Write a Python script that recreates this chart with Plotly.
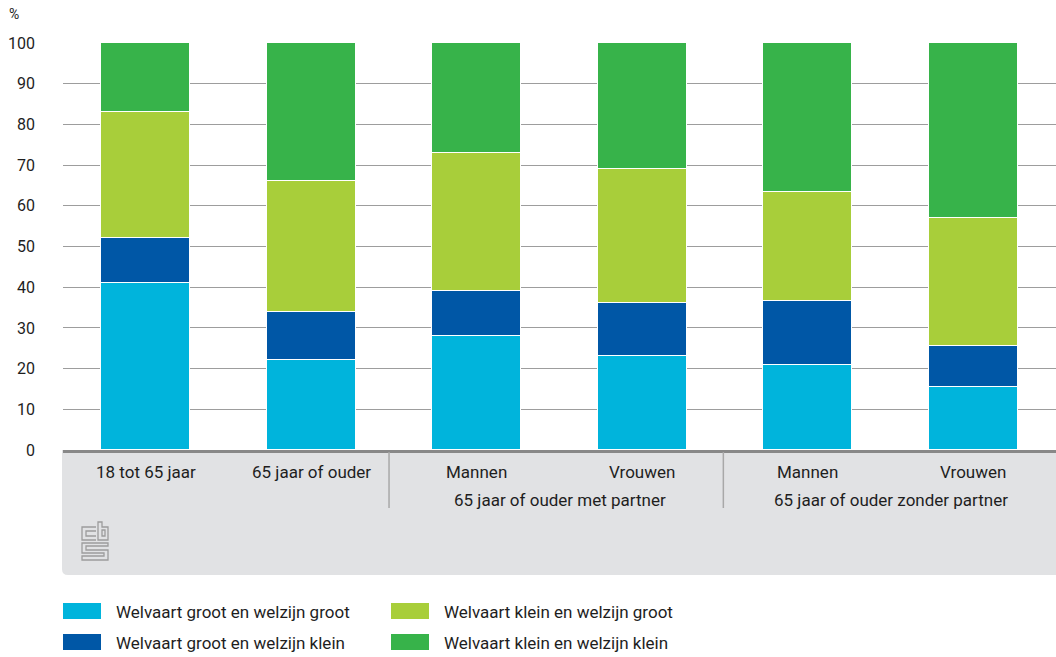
import plotly.graph_objects as go

# ---- data ----
categories = ["18 tot 65 jaar", "65 jaar of ouder", "Mannen", "Vrouwen", "Mannen", "Vrouwen"]
group_labels = ["65 jaar of ouder met partner", "65 jaar of ouder zonder partner"]
series_names = [
    "Welvaart groot en welzijn groot",
    "Welvaart groot en welzijn klein",
    "Welvaart klein en welzijn groot",
    "Welvaart klein en welzijn klein",
]
welvaart_groot_welzijn_groot = [41, 22, 28, 23, 21, 15.5]
welvaart_groot_welzijn_klein = [11, 12, 11, 13, 15.5, 10]
welvaart_klein_welzijn_groot = [31, 32, 34, 33, 27, 31.5]
welvaart_klein_welzijn_klein = [17, 34, 27, 31, 36.5, 43]
y_ticks = [0, 10, 20, 30, 40, 50, 60, 70, 80, 90, 100]

series_values = [
    welvaart_groot_welzijn_groot,
    welvaart_groot_welzijn_klein,
    welvaart_klein_welzijn_groot,
    welvaart_klein_welzijn_klein,
]
colors = ["#00b4dc", "#0057a6", "#a8ce3a", "#37b34a"]

FONT = "Roboto, Open Sans, sans-serif"
TXT = "#1e1e1e"

W, H = 1056, 657
L, R, T, B = 63, 0, 43, 207
PW, PH = W - L - R, H - T - B


def px(x):
    return (x - L) / PW


def py(y):
    return (H - B - y) / PH


xs = list(range(len(categories)))

fig = go.Figure()
for name, vals, col in zip(series_names, series_values, colors):
    fig.add_trace(go.Bar(
        x=xs, y=vals, name=name, width=0.54,
        marker=dict(color=col, line=dict(color="white", width=1.5)),
        showlegend=False,
    ))

shapes = []
annotations = []

# grey band under axis with rounded bottom-left corner
x0, x1 = px(62), 1.0
y0, y1 = py(450), py(575)
r = 6
shapes.append(dict(
    type="path", xref="paper", yref="paper", layer="below",
    path=(f"M {x0},{y0} L {x1},{y0} L {x1},{y1} L {px(62 + r)},{y1} "
          f"Q {x0},{y1} {x0},{py(575 - r)} Z"),
    fillcolor="#e1e2e4", line=dict(width=0),
))

# separators between groups
for xv in [1.47, 3.49]:
    shapes.append(dict(type="line", xref="x", yref="paper", x0=xv, x1=xv,
                       y0=py(452), y1=py(508), line=dict(color="#a8a8a8", width=1.5)))

# category labels
for i, c in enumerate(categories):
    annotations.append(dict(x=i, y=py(472), xref="x", yref="paper", text=c,
                            showarrow=False, font=dict(size=17, color=TXT, family=FONT),
                            xanchor="center", yanchor="middle"))
for gi, g in enumerate(group_labels):
    annotations.append(dict(x=2.5 + 2 * gi, y=py(500), xref="x", yref="paper", text=g,
                            showarrow=False, font=dict(size=17, color=TXT, family=FONT),
                            xanchor="center", yanchor="middle"))

# % unit label
annotations.append(dict(x=px(7), y=py(14), xref="paper", yref="paper", text="%",
                        showarrow=False, font=dict(size=14, color=TXT, family=FONT),
                        xanchor="left", yanchor="middle"))

# custom legend
leg_pos = [(63, 603), (63, 634), (391, 603), (391, 634)]
for (lx, ly), name, col in zip(leg_pos, series_names, colors):
    shapes.append(dict(type="rect", xref="paper", yref="paper",
                       x0=px(lx), x1=px(lx + 38), y0=py(ly), y1=py(ly + 16),
                       fillcolor=col, line=dict(width=0)))
    annotations.append(dict(x=px(lx + 51), y=py(ly + 9), xref="paper", yref="paper",
                            text=name, showarrow=False,
                            font=dict(size=17, color=TXT, family=FONT),
                            xanchor="left", yanchor="middle"))

# CBS logo (simplified outline)
def logo_path(pts, close=False):
    s = "M " + " L ".join(f"{px(a)},{py(b)}" for a, b in pts)
    return s + (" Z" if close else "")

logo_parts = [
    ([(96, 527), (82, 527), (82, 540), (96, 540)], False),
    ([(96, 531), (86, 531), (86, 536), (96, 536)], False),
    ([(98, 522), (98, 540), (108, 540), (108, 527), (102, 527), (102, 522)], True),
    ([(102, 530), (105, 530), (105, 536), (102, 536)], True),
    ([(108, 543), (82, 543), (82, 553), (104, 553), (104, 556), (82, 556),
      (82, 560), (108, 560), (108, 550), (86, 550), (86, 546), (108, 546)], True),
]
for pts, cl in logo_parts:
    shapes.append(dict(type="path", xref="paper", yref="paper", path=logo_path(pts, cl),
                       line=dict(color="#9c9c9c", width=1.3)))

fig.update_layout(
    barmode="stack",
    width=W, height=H,
    margin=dict(l=L, r=R, t=T, b=B, pad=0),
    paper_bgcolor="white", plot_bgcolor="white",
    font=dict(family=FONT, size=16, color=TXT),
    shapes=shapes, annotations=annotations,
    bargap=0,
    xaxis=dict(range=[-0.5, 5.5], showticklabels=False, showgrid=False, zeroline=False,
               showline=True, linecolor="#888888", linewidth=3, ticks="", fixedrange=True),
    yaxis=dict(range=[0, 100], tickvals=y_ticks, showgrid=True, gridcolor="#9d9d9d",
               gridwidth=1, zeroline=False, showline=False, ticks="",
               ticklabelstandoff=27, tickfont=dict(size=16, color=TXT, family=FONT)),
)

fig.write_html("out.html", config={"displayModeBar": False},
               post_script="document.body.style.margin='0';document.body.style.overflow='hidden';")
